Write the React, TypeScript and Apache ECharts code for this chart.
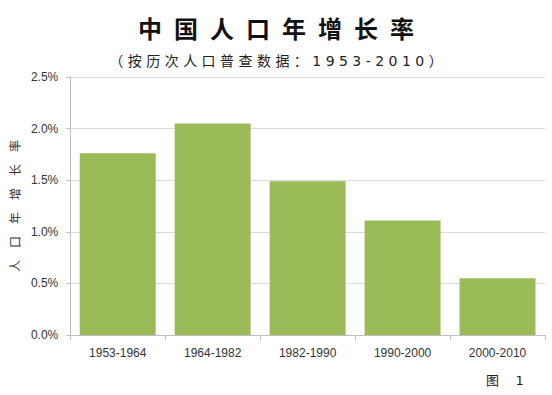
import React, { useEffect, useRef } from "react";
import * as echarts from "echarts";

const categories = ["1953-1964", "1964-1982", "1982-1990", "1990-2000", "2000-2010"];
const growthRates = [1.76, 2.05, 1.49, 1.11, 0.55];
const titleText = "中\u2002国\u2002人\u2002口\u2002年\u2002增\u2002长\u2002率";
const subtitleText = "（ 按 历 次 人 口 普 查 数 据 ： 1 9 5 3 - 2 0 1 0 ）";
const yAxisName = "人\u3000口\u3000年\u3000增\u3000长\u3000率";
const figureLabel = "图    1";

export default function App() {
  const ref = useRef<HTMLDivElement>(null);
  useEffect(() => {
    if (!ref.current) return;
    const chart = echarts.init(ref.current, undefined, { renderer: "svg" });
    chart.setOption({
      animation: false,
      backgroundColor: "#ffffff",
      title: {
        text: titleText,
        subtext: subtitleText,
        left: "center",
        top: 13,
        itemGap: 12,
        textStyle: {
          fontFamily: "'DejaVu Sans', 'Noto Sans CJK SC'",
          fontSize: 24,
          fontWeight: "bold",
          color: "#111111",
        },
        subtextStyle: {
          fontFamily: "'DejaVu Sans', 'Noto Sans CJK SC'",
          fontSize: 14,
          color: "#222222",
        },
      },
      grid: { left: 66, right: 7, top: 77, bottom: 60, containLabel: false },
      xAxis: {
        type: "category",
        data: categories,
        axisLine: { lineStyle: { color: "#bfbfbf" } },
        axisTick: { show: true, length: 5, lineStyle: { color: "#bfbfbf" } },
        axisLabel: {
          margin: 12,
          fontFamily: "'Liberation Sans', sans-serif",
          fontSize: 12,
          color: "#333333",
        },
      },
      yAxis: {
        type: "value",
        min: 0,
        max: 2.5,
        interval: 0.5,
        name: yAxisName,
        nameLocation: "middle",
        nameRotate: 90,
        nameGap: 50,
        nameTextStyle: {
          fontFamily: "'Noto Sans CJK SC'",
          fontSize: 12,
          color: "#333333",
        },
        axisLine: { show: true, lineStyle: { color: "#bfbfbf" } },
        axisTick: { show: true, length: 4, lineStyle: { color: "#bfbfbf" } },
        splitLine: { lineStyle: { color: "#d9d9d9" } },
        axisLabel: {
          margin: 12,
          fontFamily: "'Liberation Sans', sans-serif",
          fontSize: 12,
          color: "#333333",
          formatter: (v: number) => v.toFixed(1) + "%",
        },
      },
      series: [
        {
          type: "bar",
          data: growthRates,
          barCategoryGap: "20%",
          itemStyle: { color: "#9bbb59" },
        },
      ],
      graphic: [
        {
          type: "text",
          left: 486,
          top: 374,
          style: {
            text: figureLabel,
            fontFamily: "'DejaVu Sans', 'Noto Sans CJK SC'",
            fontSize: 13,
            fill: "#222222",
          },
        },
      ],
    });
    return () => chart.dispose();
  }, []);
  return (
    <div
      ref={ref}
      style={{ position: "fixed", left: 0, top: 0, width: 552, height: 395 }}
    />
  );
}
